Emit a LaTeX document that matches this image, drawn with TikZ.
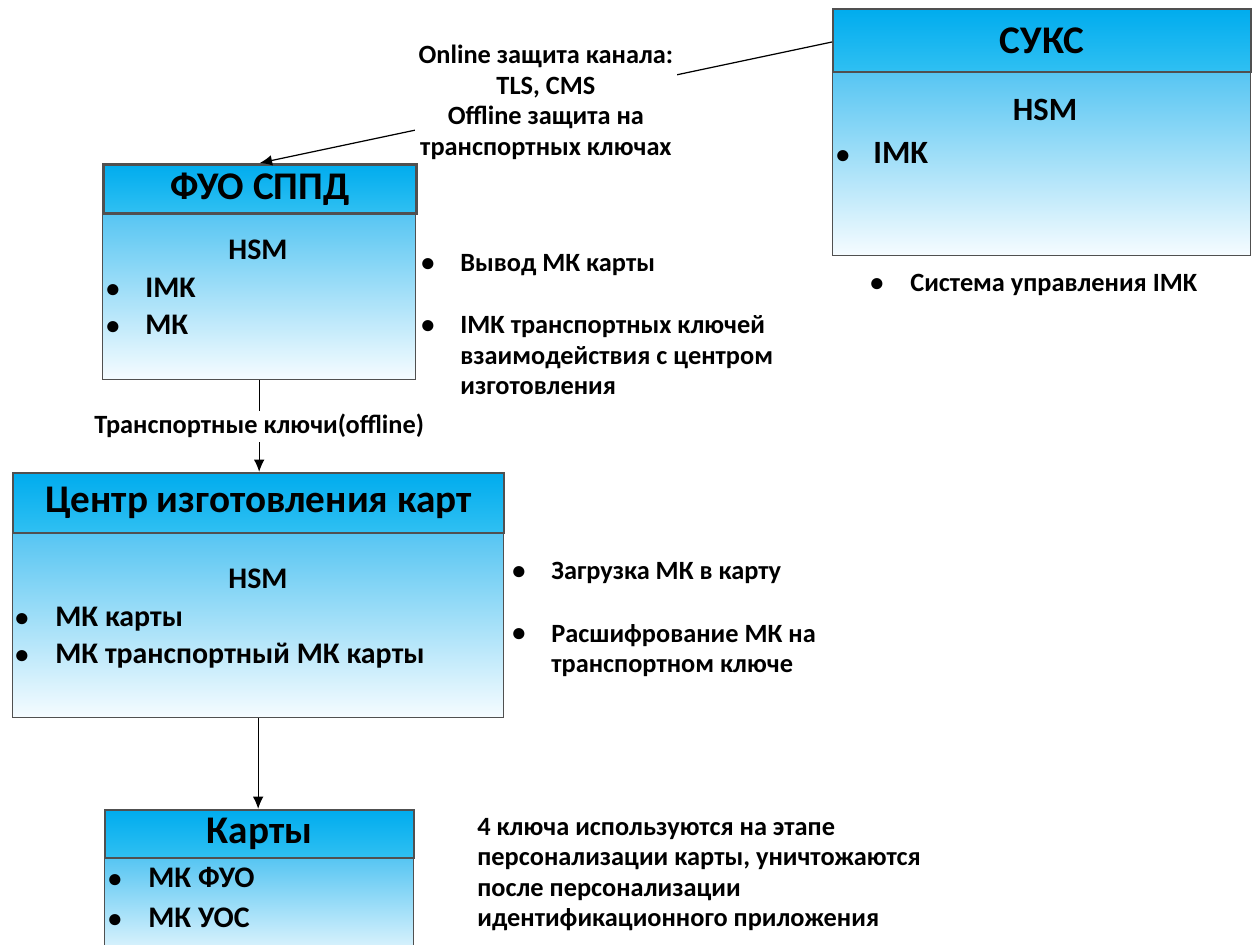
\documentclass[tikz,border=0pt]{standalone}
\usepackage{fontspec}
\setmainfont{Carlito}
\usetikzlibrary{arrows.meta}
\definecolor{hdrtop}{RGB}{0,172,238}
\definecolor{hdrbot}{RGB}{48,192,242}
\definecolor{bodytop}{RGB}{86,197,242}
\definecolor{bodybot}{RGB}{246,252,255}
\definecolor{edge}{RGB}{80,80,80}
\tikzset{
	hdr/.style={draw=edge, line width=1.1pt, top color=hdrtop, bottom color=hdrbot, anchor=north west, inner sep=0pt, font=\fontsize{22.3}{26}\selectfont\bfseries},
	blk/.style={draw=edge, line width=0.8pt, top color=bodytop, bottom color=bodybot, anchor=north west, inner sep=0pt},
	txt/.style={anchor=base west, inner sep=0pt, font=\fontsize{17}{21}\selectfont\bfseries},
	big/.style={txt, font=\fontsize{18.5}{22}\selectfont\bfseries},
	note/.style={anchor=base west, inner sep=0pt, align=left, font=\fontsize{15}{17.4}\selectfont\bfseries},
	dot/.style={anchor=base, inner sep=0pt, font=\fontsize{15}{21}\selectfont\bfseries},
	link/.style={-{Latex[length=7pt,width=6pt]}, line width=0.7pt, black},
	lbl/.style={fill=white, inner sep=2pt, align=center, font=\fontsize{15}{17.4}\selectfont\bfseries}
}
\begin{document}
\begin{tikzpicture}[x=0.02cm, y=-0.02cm]
			%%%%% START %%%%%
			\clip (0,0) rectangle (1252,945);
			\fill[white] (0,0) rectangle (1252,945);
			
			% FUO SPPD
			\node[blk, minimum width=6.26cm, minimum height=3.34cm] (fuob) at (102,212) {};
			\node[hdr, line width=1.5pt, minimum width=6.26cm, minimum height=0.98cm] (fuo) at (102,163) {ФУО СППД};
			\node[txt, anchor=base] (fuohsm) at (258,260) {HSM};
			\node[dot] (fuod1) at (113,298) {•};
			\node[txt] (fuot1) at (145,298) {IMK};
			\node[dot] (fuod2) at (113,335) {•};
			\node[txt] (fuot2) at (145,335) {МК};
			
			% SUKS
			\node[blk, minimum width=8.36cm, minimum height=3.68cm] (suksb) at (832,71) {};
			\node[hdr, minimum width=8.36cm, minimum height=1.26cm] (suks) at (832,8) {СУКС};
			\node[big, anchor=base] (sukshsm) at (1045,121) {HSM};
			\node[dot] (suksd1) at (843,164) {•};
			\node[big] (sukst1) at (873,164) {IMK};
			
			% centr
			\node[blk, minimum width=9.82cm, minimum height=3.7cm] (cib) at (12,532) {};
			\node[hdr, minimum width=9.82cm, minimum height=1.2cm] (ci) at (12,472) {Центр изготовления карт};
			\node[txt, anchor=base] (cihsm) at (258,589) {HSM};
			\node[dot] (cid1) at (22,627) {•};
			\node[txt] (cit1) at (55,627) {МК карты};
			\node[dot] (cid2) at (22,664) {•};
			\node[txt] (cit2) at (55,664) {МК транспортный МК карты};
			
			% karty
			\node[blk, minimum width=6.18cm, minimum height=2.2cm] (kartb) at (104,857) {};
			\node[hdr, minimum width=6.18cm, minimum height=0.96cm] (kart) at (104,809) {Карты};
			\node[dot] (kartd1) at (115,888) {•};
			\node[txt] (kartt1) at (148,888) {МК ФУО};
			\node[dot] (kartd2) at (115,928) {•};
			\node[txt] (kartt2) at (148,928) {МК УОС};
			
			% notes (base = last line)
			\node[dot] (n1d) at (428,272) {•};
			\node[note] (n1) at (460,272) {Вывод МК карты};
			\node[dot] (n2d) at (428,334) {•};
			\node[note] (n2) at (460,395) {IMK транспортных ключей\\взаимодействия с центром\\изготовления};
			\node[dot] (n3d) at (877,292) {•};
			\node[note] (n3) at (910,292) {Система управления IMK};
			\node[dot] (n4d) at (519,580) {•};
			\node[note] (n4) at (551,580) {Загрузка МК в карту};
			\node[dot] (n5d) at (519,642) {•};
			\node[note] (n5) at (551,673) {Расшифрование МК на\\транспортном ключе};
			\node[note] (n6) at (477,927) {4 ключа используются на этапе\\персонализации карты, уничтожаются\\после персонализации\\идентификационного приложения};
			
			% links
			\coordinate (suksin) at (832,42);
			\draw[link] (suksin) -- node[lbl] (chan) {Online защита канала:\\TLS, CMS\\Offline защита на\\транспортных ключах} (fuo.north);
			\draw[link] (fuob.south) -- node[lbl] (tk) {Транспортные ключи(offline)} (fuob.south |- ci.north);
			\draw[link] (cib.south) -- (cib.south |- kart.north);
			%%%%% END %%%%%
\end{tikzpicture}
\end{document}
